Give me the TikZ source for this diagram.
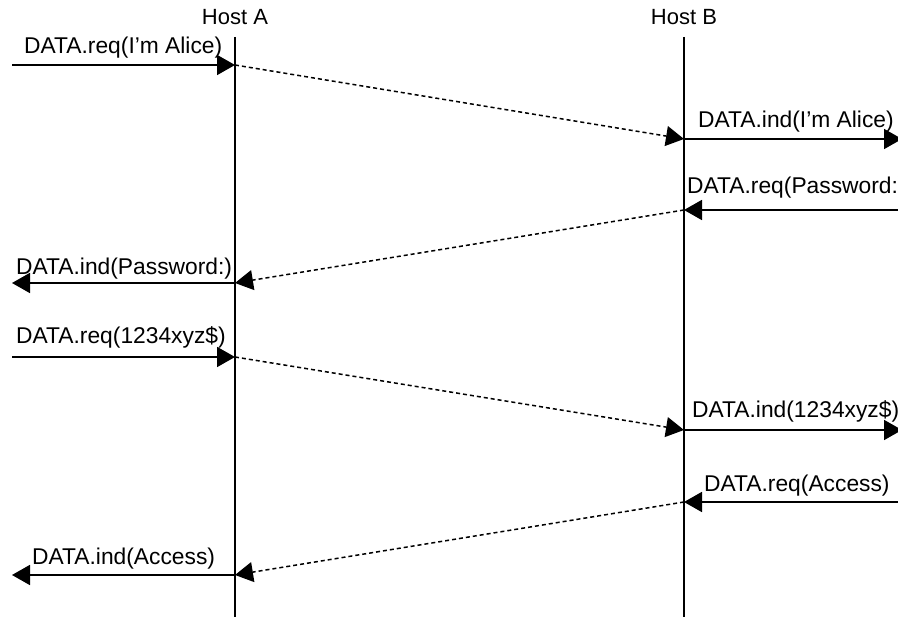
\documentclass[tikz,border=0pt]{standalone}
\usepackage{fontspec}
\setmainfont{Liberation Sans}
\usetikzlibrary{arrows.meta}
\tikzset{
  lifeline/.style={line width=1.6pt},
  prim/.style={line width=1.8pt, -{Triangle[length=18pt,width=20pt]}},
  msg/.style={line width=1.5pt, dash pattern=on 4pt off 3pt, -{Triangle[length=18pt,width=20pt]}},
  lbl/.style={inner sep=0pt, font=\fontsize{22.8}{27}\selectfont, anchor=base west},
  host/.style={inner sep=0pt, font=\fontsize{22}{26}\selectfont, anchor=base}
}
\begin{document}
\begin{tikzpicture}[x=1pt,y=-1pt]
\useasboundingbox (0,0) rectangle (898,617);
\clip (0,0) rectangle (898,617);
% hosts
\node[host] (hA) at (235,25) {Host A};
\node[host] (hB) at (684,25) {Host B};
\coordinate (Atop) at (235,37);
\coordinate (Abot) at (235,617);
\coordinate (Btop) at (684,37);
\coordinate (Bbot) at (684,617);
\draw[lifeline] (Atop) -- (Abot);
\draw[lifeline] (Btop) -- (Bbot);
% event points
\coordinate (L1) at (12,65);   \coordinate (A1) at (235,65);
\coordinate (B2) at (684,139); \coordinate (R2) at (902,139);
\coordinate (R3) at (898,210); \coordinate (B3) at (684,210);
\coordinate (A4) at (235,283); \coordinate (L4) at (12,283);
\coordinate (L5) at (12,357);  \coordinate (A5) at (235,357);
\coordinate (B6) at (684,430); \coordinate (R6) at (902,430);
\coordinate (R7) at (898,502); \coordinate (B7) at (684,502);
\coordinate (A8) at (235,575); \coordinate (L8) at (12,575);
% primitives
\draw[prim] (L1) -- (A1);
\draw[prim] (B2) -- (R2);
\draw[prim] (R3) -- (B3);
\draw[prim] (A4) -- (L4);
\draw[prim] (L5) -- (A5);
\draw[prim] (B6) -- (R6);
\draw[prim] (R7) -- (B7);
\draw[prim] (A8) -- (L8);
% messages
\draw[msg] (A1) -- (B2);
\draw[msg] (B3) -- (A4);
\draw[msg] (A5) -- (B6);
\draw[msg] (B7) -- (A8);
% labels
\node[lbl] (t1) at (24,54)  {DATA.req(I’m Alice)};
\node[lbl] (t2) at (698,128) {DATA.ind(I’m Alice)};
\node[lbl] (t3) at (687,194) {DATA.req(Password:)};
\node[lbl] (t4) at (16,275) {DATA.ind(Password:)};
\node[lbl] (t5) at (16,344) {DATA.req(1234xyz\$)};
\node[lbl] (t6) at (692,418) {DATA.ind(1234xyz\$)};
\node[lbl] (t7) at (704,492) {DATA.req(Access)};
\node[lbl] (t8) at (32,565) {DATA.ind(Access)};
\end{tikzpicture}
\end{document}
